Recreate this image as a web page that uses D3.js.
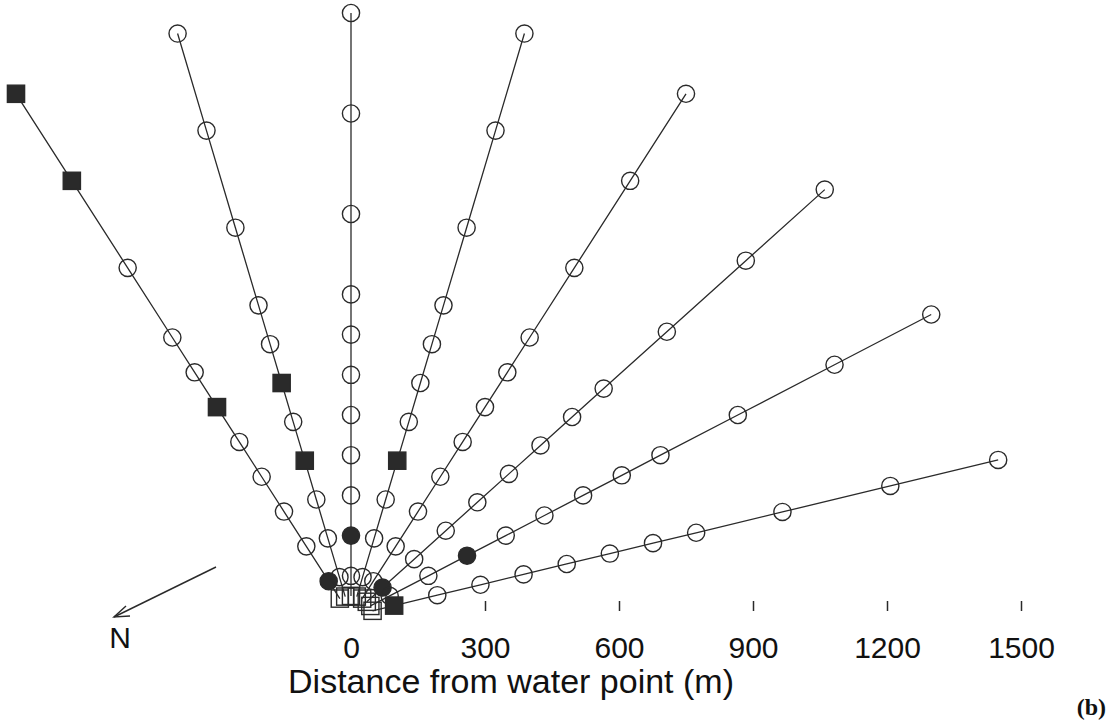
<!DOCTYPE html>
<html>
<head>
<meta charset="utf-8">
<script src="https://cdn.jsdelivr.net/npm/d3@7"></script>
<style>
  html, body { margin: 0; padding: 0; background: #fff; }
  svg { display: block; }
</style>
</head>
<body>
<svg id="chart" width="1112" height="724"></svg>
<script>
// ---- data ----
// transect bearings (degrees, plot coordinates: 0 = right, 90 = up)
const transectAngles = [120, 105, 90, 75, 60, 45, 30, 15];
// sampling distances along each transect (m)
const sampleDistances = [50, 100, 200, 300, 400, 500, 600, 700, 800, 1000, 1250, 1500];
// marker at each sample: s = open square, o = open circle, c = filled circle, S = filled square
const transectMarkers = [
  ["s","c","o","o","o","o","S","o","o","o","S","S"],
  ["s","o","o","o","S","o","S","o","o","o","o","o"],
  ["s","o","c","o","o","o","o","o","o","o","o","o"],
  ["s","o","o","o","S","o","o","o","o","o","o","o"],
  ["s","o","o","o","o","o","o","o","o","o","o","o"],
  ["s","c","o","o","o","o","o","o","o","o","o","o"],
  ["s","o","o","c","o","o","o","o","o","o","o","o"],
  ["s","S","o","o","o","o","o","o","o","o","o","o"]
];
const xTickValues = [0, 300, 600, 900, 1200, 1500];
const xTitle = "Distance from water point (m)";
const northLabel = "N";
const panelLabel = "(b)";

// ---- drawing ----
const svg = d3.select("#chart");
const ink = "#2a2a2a";

const x = d3.scaleLinear().domain([0, 1500]).range([351, 1021]);
const y = d3.scaleLinear().domain([0, 1500]).range([616, 13]);

const rad = a => a * Math.PI / 180;
const transects = transectAngles.map((a, i) => ({
  angle: a,
  pts: sampleDistances.map((d, j) => ({
    px: x(d * Math.cos(rad(a))),
    py: y(d * Math.sin(rad(a))),
    m: transectMarkers[i][j]
  }))
}));

// transect lines
const line = d3.line().x(p => p.px).y(p => p.py);
svg.append("g").selectAll("path").data(transects).join("path")
  .attr("d", t => line(t.pts))
  .attr("fill", "none").attr("stroke", ink).attr("stroke-width", 1.3);

// markers
const allPts = transects.flatMap(t => t.pts);
const mg = svg.append("g");
const R = 8.6, H = 8.6;
mg.selectAll("circle").data(allPts.filter(p => p.m === "o" || p.m === "c")).join("circle")
  .attr("cx", p => p.px).attr("cy", p => p.py).attr("r", R)
  .attr("fill", p => p.m === "c" ? ink : "none")
  .attr("stroke", ink).attr("stroke-width", 1.4);
mg.selectAll("rect").data(allPts.filter(p => p.m === "s" || p.m === "S")).join("rect")
  .attr("x", p => p.px - H).attr("y", p => p.py - H)
  .attr("width", 2 * H).attr("height", 2 * H)
  .attr("fill", p => p.m === "S" ? ink : "none")
  .attr("stroke", ink).attr("stroke-width", 1.4);

// x axis (ticks + labels, no domain line)
const axis = d3.axisBottom(x).tickValues(xTickValues).tickSize(10).tickPadding(26)
  .tickFormat(d3.format("d"));
const ag = svg.append("g").attr("transform", "translate(0,601)").call(axis);
ag.select(".domain").remove();
ag.selectAll(".tick line").attr("stroke", ink).attr("stroke-width", 1.5)
  .filter(d => d === 0).remove();
ag.selectAll(".tick text")
  .attr("fill", "#111")
  .style("font-family", "'Liberation Sans', Arial, Helvetica, sans-serif")
  .style("font-size", "30px");

svg.append("text")
  .attr("x", 511).attr("y", 693)
  .attr("text-anchor", "middle")
  .style("font-family", "'Liberation Sans', Arial, Helvetica, sans-serif")
  .style("font-size", "34px").attr("fill", "#111")
  .text(xTitle);

// north arrow
svg.append("line").attr("x1", 216).attr("y1", 567).attr("x2", 114).attr("y2", 617)
  .attr("stroke", ink).attr("stroke-width", 1.4);
svg.append("path").attr("d", "M126,606 L114,617 L130,616")
  .attr("fill", "none").attr("stroke", ink).attr("stroke-width", 1.4);
svg.append("text").attr("x", 120).attr("y", 648).attr("text-anchor", "middle")
  .style("font-family", "'Liberation Sans', Arial, Helvetica, sans-serif")
  .style("font-size", "30px").attr("fill", "#111").text(northLabel);

svg.append("text").attr("x", 1106).attr("y", 715).attr("text-anchor", "end")
  .style("font-family", "'Liberation Serif', 'Times New Roman', serif")
  .style("font-weight", "bold")
  .style("font-size", "24px").attr("fill", "#111").text(panelLabel);
</script>
</body>
</html>
